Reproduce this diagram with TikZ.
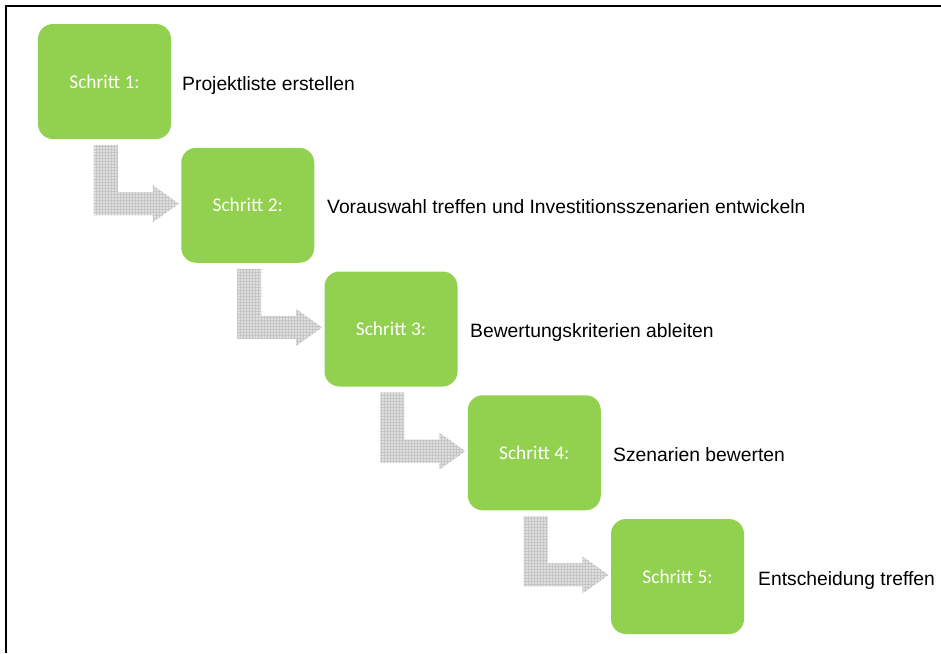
\documentclass[tikz,border=0pt]{standalone}
\usepackage{fontspec}
\setmainfont{Liberation Sans}
\newfontfamily\calibrifont{Carlito}
\usetikzlibrary{patterns}
\definecolor{stepgreen}{RGB}{146,208,80}
\begin{document}
\begin{tikzpicture}[x=1pt,y=-1pt,
  stepbox/.style={fill=stepgreen, draw=none, rounded corners=15pt,
    minimum width=133pt, minimum height=115pt, inner sep=0pt,
    text=white, font=\calibrifont\fontsize{19.4}{23}\selectfont},
  steplabel/.style={anchor=base west, inner sep=0pt, text=black,
    font=\fontsize{19.3}{23}\selectfont},
  bentarrow/.style={fill=gray!25, draw=none,
    postaction={pattern=grid, pattern color=gray!45}}]
\useasboundingbox (0,0) rectangle (941,653);
\draw[line width=2pt] (6,653) -- (6,6) -- (941,6);

\node[stepbox] (s1) at (104.5, 81.5) {Schritt 1:};
\node[stepbox] (s2) at (247.75, 205.25) {Schritt 2:};
\node[stepbox] (s3) at (391, 329) {Schritt 3:};
\node[stepbox] (s4) at (534.25, 452.75) {Schritt 4:};
\node[stepbox] (s5) at (677.5, 576.5) {Schritt 5:};

\node[steplabel] (l1) at (182, 90) {Projektliste erstellen};
\node[steplabel] (l2) at (327, 213.75) {Vorauswahl treffen und Investitionsszenarien entwickeln};
\node[steplabel] (l3) at (470, 337.5) {Bewertungskriterien ableiten};
\node[steplabel] (l4) at (613, 461.25) {Szenarien bewerten};
\node[steplabel] (l5) at (758, 585) {Entscheidung treffen};

\foreach \i in {1,2,3,4}{
  \path[bentarrow, shift={(s\i.south west)}]
    (56,6) -- (80,6) -- (80,53) -- (115,53) -- (115,46) -- (141,64.5)
    -- (115,83) -- (115,76) -- (56,76) -- cycle;
}
\end{tikzpicture}
\end{document}
